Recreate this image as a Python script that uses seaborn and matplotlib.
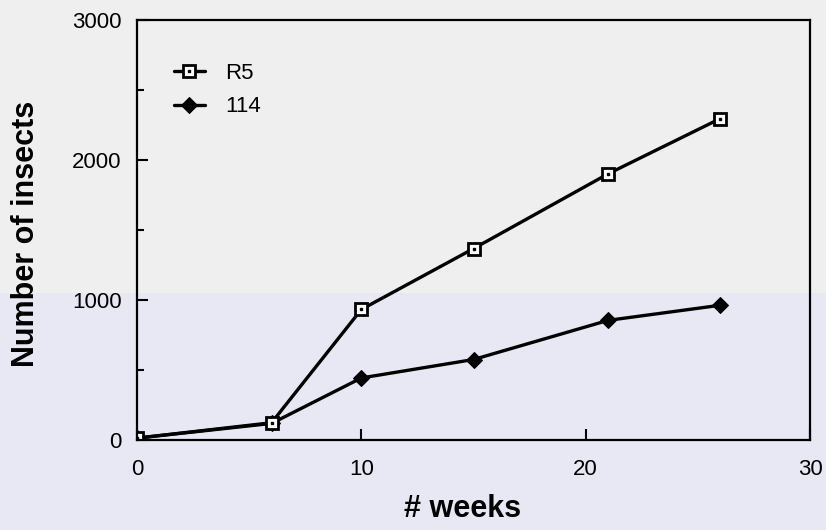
import matplotlib
matplotlib.use("Agg")
import matplotlib.pyplot as plt
import seaborn as sns
import pandas as pd
from matplotlib.patches import Rectangle
from matplotlib.ticker import MultipleLocator

weeks = [0, 6, 10, 15, 21, 26]
r5 = [10, 120, 930, 1365, 1900, 2295]
s114 = [10, 115, 440, 572, 852, 960]
x_ticks = [0, 10, 20, 30]
y_ticks = [0, 1000, 2000, 3000]

sns.set_theme(style="ticks")
plt.rcParams['font.family'] = ['Liberation Sans', 'DejaVu Sans']
plt.rcParams['text.color'] = 'black'
plt.rcParams['axes.labelcolor'] = 'black'

fig = plt.figure(figsize=(8.26, 5.30), dpi=100)
fig.patch.set_facecolor('#e8e7f4')
fig.patches.append(Rectangle((0, 0.447), 1, 0.553, transform=fig.transFigure,
                             facecolor='#efefef', edgecolor='none', zorder=-10))
ax = fig.add_axes([137/826, 1-439.5/530, (810-137)/826, (439.5-20)/530])
ax.set_facecolor('none')

df_r5 = pd.DataFrame({'weeks': weeks, 'n': r5})
df_114 = pd.DataFrame({'weeks': weeks, 'n': s114})

sns.lineplot(data=df_114, x='weeks', y='n', ax=ax, color='black', lw=2.4,
             marker='D', markersize=8.5, markerfacecolor='black',
             markeredgecolor='black', label='114')
sns.lineplot(data=df_r5, x='weeks', y='n', ax=ax, color='black', lw=2.4,
             marker='s', markersize=9, markerfacecolor='white',
             markeredgecolor='black', markeredgewidth=2.0, label='R5')
dot, = ax.plot(weeks, r5, ls='none', marker='s', markersize=1.8,
               color='black', zorder=5)

lines = ax.get_lines()
l114, lr5 = lines[0], lines[1]
leg = ax.legend(handles=[(lr5, dot), l114], labels=['R5', '114'],
                loc='upper left', bbox_to_anchor=(0.025, 0.945), frameon=False,
                fontsize=16, handlelength=1.4, handletextpad=0.9,
                labelspacing=0.55)
for t in leg.get_texts():
    t.set_color('black')

ax.set_xlim(0, 30)
ax.set_ylim(0, 3000)
ax.set_xticks(x_ticks)
ax.set_xticklabels([str(t) for t in x_ticks])
ax.set_yticks(y_ticks)
ax.set_yticklabels([str(t) for t in y_ticks])
ax.yaxis.set_minor_locator(MultipleLocator(500))
ax.tick_params(axis='both', which='major', direction='in', length=8, width=1.5,
               labelsize=16, colors='black')
ax.tick_params(axis='y', which='major', pad=11)
ax.tick_params(axis='x', which='major', pad=14)
ax.tick_params(axis='y', which='minor', direction='in', length=5, width=1.5,
               colors='black')
for sp in ax.spines.values():
    sp.set_visible(True)
    sp.set_linewidth(1.6)
    sp.set_color('black')

ax.set_xlabel('# weeks', fontsize=22, fontweight='bold', color='black')
ax.set_ylabel('Number of insects', fontsize=22, fontweight='bold', color='black')
ax.xaxis.set_label_coords(0.484, -0.13)
ax.yaxis.set_label_coords(-0.143, 0.49)

fig.savefig('out.png', dpi=100, facecolor=fig.get_facecolor())
